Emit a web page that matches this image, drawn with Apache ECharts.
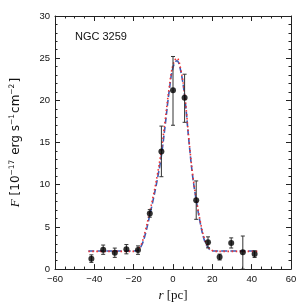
<!DOCTYPE html>
<html><head><meta charset="utf-8">
<script src="https://cdn.jsdelivr.net/npm/echarts@6/dist/echarts.min.js"></script>
<style>html,body{margin:0;padding:0;background:#fff}#c{width:307px;height:307px}</style>
</head><body><div id="c"></div>
<script>
// Observed data points
var rPc = [-41.5, -35.5, -29.6, -23.7, -17.8, -11.8, -5.9, 0, 5.9, 11.8, 17.8, 23.7, 29.6, 35.5, 41.5];
var flux = [1.24, 2.3, 1.94, 2.36, 2.25, 6.6, 13.95, 21.2, 20.3, 8.15, 3.17, 1.43, 3.1, 2.0, 1.78];
var errLow = [0.45, 0.55, 0.55, 0.55, 0.5, 0.45, 3.0, 4.15, 2.9, 2.25, 0.65, 0.35, 0.6, 2.0, 0.4];
var errHigh = [0.45, 0.55, 0.55, 0.55, 0.5, 0.45, 3.0, 4.0, 2.8, 2.3, 0.65, 0.35, 0.6, 1.92, 0.4];

// Model curves
var modelR = [-43, -20, -18, -16, -14, -12, -10, -8, -6, -4, -2, 0, 2, 4, 6, 8, 10, 12, 14, 16, 18, 20, 22, 43];
var modelRed = [2.1, 2.1, 2.25, 3.0, 4.6, 6.6, 8.7, 11.1, 14.0, 17.6, 21.4, 24.2, 25.0, 23.6, 20.5, 15.6, 11.2, 8.1, 5.5, 3.6, 2.6, 2.2, 2.1, 2.1];
var modelBlue = [2.15, 2.15, 2.2, 2.8, 4.2, 6.2, 8.3, 10.6, 13.3, 17.0, 21.0, 23.9, 24.7, 23.4, 20.3, 15.4, 11.0, 7.9, 5.3, 3.4, 2.5, 2.15, 2.15, 2.15];

var xTicks = [-60, -40, -20, 0, 20, 40, 60];
var yTicks = [0, 5, 10, 15, 20, 25, 30];

var points = rPc.map(function (r, i) { return [r, flux[i]]; });
var bars = rPc.map(function (r, i) { return [r, flux[i] - errLow[i], flux[i] + errHigh[i]]; });
var redLine = modelR.map(function (r, i) { return [r, modelRed[i]]; });
var blueLine = modelR.map(function (r, i) { return [r, modelBlue[i]]; });

var tickFont = 'Liberation Sans';
var axColor = '#222';
function fmt(v) { return v < 0 ? '\u2212' + (-v) : String(v); }
function xAx(pos, show) {
  return {
    type: 'value', position: pos, min: xTicks[0], max: xTicks[xTicks.length - 1], interval: 20,
    axisLine: { show: true, onZero: false, lineStyle: { color: axColor, width: 1 } },
    axisTick: { show: true, inside: true, length: 5, lineStyle: { color: axColor } },
    minorTick: { show: true, splitNumber: 4, length: 2.5, lineStyle: { color: axColor } },
    splitLine: { show: false },
    axisLabel: { show: show, color: '#111', fontSize: 9.5, fontFamily: tickFont, margin: 5, formatter: fmt }
  };
}
function yAx(pos, show) {
  return {
    type: 'value', position: pos, min: yTicks[0], max: yTicks[yTicks.length - 1], interval: 5,
    axisLine: { show: true, onZero: false, lineStyle: { color: axColor, width: 1 } },
    axisTick: { show: true, inside: true, length: 5, lineStyle: { color: axColor } },
    minorTick: { show: true, splitNumber: 5, length: 2.5, lineStyle: { color: axColor } },
    splitLine: { show: false },
    axisLabel: { show: show, color: '#111', fontSize: 9.5, fontFamily: tickFont, margin: 5, formatter: fmt }
  };
}
var xa = xAx('bottom', true);
xa.name = '{it|r} [pc]';
xa.nameLocation = 'middle';
xa.nameGap = 19;
xa.nameTextStyle = { fontSize: 13, fontFamily: 'Liberation Serif', color: '#111',
  rich: { it: { fontStyle: 'italic', fontSize: 13, fontFamily: 'Liberation Serif', color: '#111' } } };
var ya = yAx('left', true);
ya.name = '{it|F} [10{sup|\u221217} erg s{sup|\u22121}cm{sup|\u22122}]';
ya.nameLocation = 'middle';
ya.nameRotate = 90;
ya.nameGap = 32;
ya.nameTextStyle = { fontSize: 12, fontFamily: 'DejaVu Sans', color: '#111', lineHeight: 15,
  rich: {
    it: { fontStyle: 'italic', fontSize: 13, fontFamily: 'Liberation Serif', color: '#111', lineHeight: 15 },
    sup: { fontSize: 7.5, fontFamily: 'DejaVu Sans', color: '#111', verticalAlign: 'top', lineHeight: 15, padding: [0, 1, 6, 0] }
  } };

var chart = echarts.init(document.getElementById('c'), null, { renderer: 'canvas' });
chart.setOption({
  animation: false,
  grid: { left: 51, right: 16, top: 16, bottom: 33 },
  xAxis: [xa, xAx('top', false)],
  yAxis: [ya, yAx('right', false)],
  graphic: [{ type: 'text', left: 75, top: 31, style: { text: 'NGC 3259', fontSize: 11, fontFamily: 'Liberation Sans', fill: '#111' } }],
  series: [
    { type: 'line', data: blueLine, smooth: 0.4, symbol: 'none', z: 3,
      lineStyle: { color: '#3b5bb5', width: 1.6, type: [6, 3] } },
    { type: 'line', data: redLine, smooth: 0.4, symbol: 'none', z: 4,
      lineStyle: { color: '#ee3333', width: 1.6, type: [1.5, 2.5] } },
    { type: 'custom', data: bars, z: 5,
      renderItem: function (params, api) {
        var x = api.value(0);
        var lo = api.coord([x, api.value(1)]);
        var hi = api.coord([x, api.value(2)]);
        var c = 2;
        var st = { stroke: '#333', lineWidth: 1 };
        return { type: 'group', children: [
          { type: 'line', shape: { x1: lo[0], y1: lo[1], x2: hi[0], y2: hi[1] }, style: st },
          { type: 'line', shape: { x1: lo[0] - c, y1: lo[1], x2: lo[0] + c, y2: lo[1] }, style: st },
          { type: 'line', shape: { x1: hi[0] - c, y1: hi[1], x2: hi[0] + c, y2: hi[1] }, style: st }
        ] };
      } },
    { type: 'scatter', data: points, symbol: 'circle', symbolSize: 6, z: 6,
      itemStyle: { color: '#000' } }
  ]
});
</script>
</body></html>
